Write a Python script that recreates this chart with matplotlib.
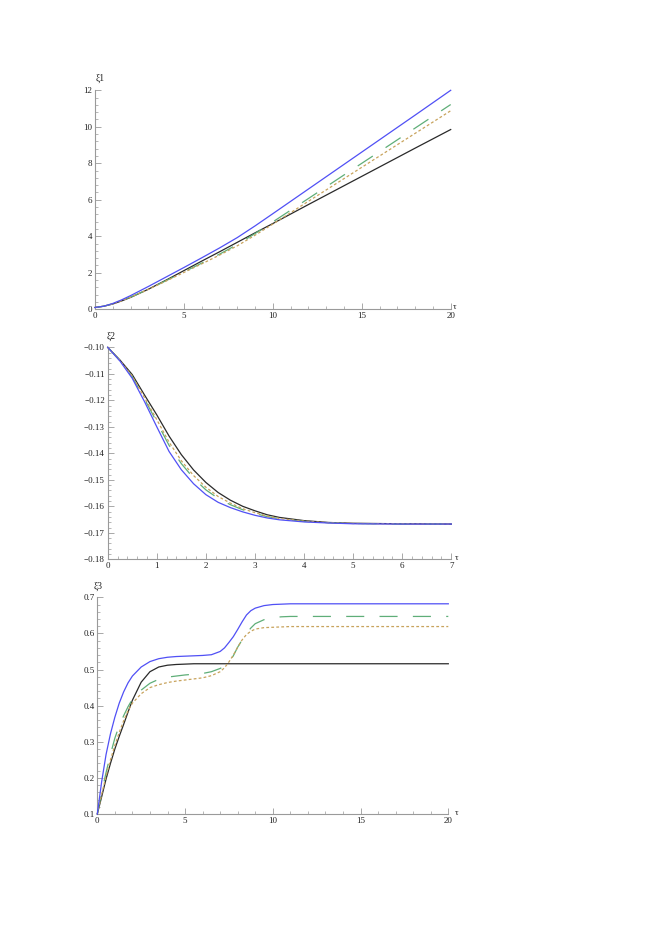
import numpy as np
import matplotlib
matplotlib.use("Agg")
import matplotlib.pyplot as plt
from matplotlib.ticker import MultipleLocator, FixedLocator, FixedFormatter

plt.rcParams['font.family'] = ['Liberation Serif', 'DejaVu Serif']
plt.rcParams['lines.scale_dashes'] = False

# ---------------- data: xi1(tau) ----------------
tau1 = [0, 0.5, 1, 1.5, 2, 3, 4, 5, 6, 7, 8, 9, 10, 12, 14, 16, 18, 20]
xi1_blue  = [0.1, 0.17, 0.32, 0.52, 0.75, 1.25, 1.77, 2.29, 2.82, 3.36, 3.93, 4.57, 5.24, 6.59, 7.94, 9.29, 10.64, 12.0]
xi1_black = [0.1, 0.17, 0.29, 0.46, 0.65, 1.10, 1.60, 2.12, 2.64, 3.15, 3.67, 4.19, 4.70, 5.74, 6.77, 7.80, 8.83, 9.85]
xi1_green = [0.1, 0.17, 0.30, 0.48, 0.67, 1.10, 1.57, 2.05, 2.53, 3.02, 3.55, 4.15, 4.79, 6.07, 7.36, 8.64, 9.93, 11.22]
xi1_orange = [0.1, 0.17, 0.30, 0.47, 0.66, 1.09, 1.55, 2.02, 2.49, 2.97, 3.48, 4.06, 4.67, 5.92, 7.16, 8.40, 9.64, 10.88]

# ---------------- data: xi2(tau) ----------------
tau2 = [0, 0.25, 0.5, 0.75, 1, 1.25, 1.5, 1.75, 2, 2.25, 2.5, 2.75, 3, 3.25, 3.5, 4, 4.5, 5, 6, 7]
xi2_blue  = [-0.1, -0.1052, -0.1117, -0.1205, -0.1300, -0.1393, -0.1462, -0.1515, -0.1556, -0.1585,
             -0.1605, -0.1621, -0.1634, -0.1644, -0.1651, -0.1659, -0.1663, -0.1666, -0.1667, -0.1667]
xi2_black = [-0.1, -0.1048, -0.1103, -0.1180, -0.1255, -0.1335, -0.1405, -0.1463, -0.1510, -0.1548,
             -0.1577, -0.1600, -0.1617, -0.1632, -0.1642, -0.1654, -0.1661, -0.1664, -0.1666, -0.1667]
xi2_green = [-0.1, -0.1050, -0.1111, -0.1195, -0.1282, -0.1370, -0.1439, -0.1494, -0.1538, -0.1570,
             -0.1594, -0.1613, -0.1627, -0.1639, -0.1647, -0.1657, -0.1662, -0.1665, -0.1667, -0.1667]
xi2_orange = [-0.1, -0.1050, -0.1109, -0.1190, -0.1273, -0.1358, -0.1428, -0.1484, -0.1528, -0.1563,
              -0.1588, -0.1609, -0.1624, -0.1637, -0.1646, -0.1656, -0.1662, -0.1665, -0.1666, -0.1667]

# ---------------- data: xi3(tau) ----------------
tau3 = [0, 0.25, 0.5, 0.75, 1, 1.25, 1.5, 1.75, 2, 2.5, 3, 3.5, 4, 4.5, 5, 5.5, 6, 6.5, 7,
        7.25, 7.5, 7.75, 8, 8.25, 8.5, 8.75, 9, 9.5, 10, 10.5, 11, 12, 15, 20]
xi3_blue  = [0.1, 0.19, 0.265, 0.322, 0.368, 0.407, 0.438, 0.463, 0.482, 0.507, 0.522, 0.530, 0.534,
             0.536, 0.537, 0.538, 0.539, 0.541, 0.550, 0.560, 0.575, 0.591, 0.611, 0.632, 0.651, 0.663,
             0.670, 0.677, 0.680, 0.681, 0.682, 0.682, 0.682, 0.682]
xi3_black = [0.1, 0.148, 0.197, 0.240, 0.280, 0.315, 0.348, 0.382, 0.415, 0.465, 0.494, 0.507, 0.512,
             0.514, 0.515, 0.516, 0.516, 0.516, 0.516, 0.516, 0.516, 0.516, 0.516, 0.516, 0.516, 0.516,
             0.516, 0.516, 0.516, 0.516, 0.516, 0.516, 0.516, 0.516]
xi3_green = [0.1, 0.16, 0.215, 0.265, 0.310, 0.345, 0.372, 0.397, 0.418, 0.443, 0.462, 0.473, 0.479,
             0.482, 0.485, 0.487, 0.489, 0.494, 0.503, 0.509, 0.520, 0.538, 0.562, 0.582, 0.600, 0.615,
             0.627, 0.638, 0.644, 0.646, 0.647, 0.647, 0.647, 0.647]
xi3_orange = [0.1, 0.155, 0.205, 0.250, 0.290, 0.326, 0.358, 0.386, 0.407, 0.433, 0.450, 0.458, 0.464,
              0.468, 0.471, 0.474, 0.477, 0.483, 0.494, 0.505, 0.521, 0.540, 0.562, 0.582, 0.597, 0.606,
              0.612, 0.616, 0.617, 0.618, 0.619, 0.619, 0.619, 0.619]

# ---------------- ticks ----------------
x1_ticks = [0, 5, 10, 15, 20]
y1_ticks = [0, 2, 4, 6, 8, 10, 12]
x2_ticks = [0, 1, 2, 3, 4, 5, 6, 7]
y2_ticks = [-0.18, -0.17, -0.16, -0.15, -0.14, -0.13, -0.12, -0.11, -0.10]
y2_labels = ['\u22120.18', '\u22120.17', '\u22120.16', '\u22120.15', '\u22120.14',
             '\u22120.13', '\u22120.12', '\u22120.11', '\u22120.10']
x3_ticks = [0, 5, 10, 15, 20]
y3_ticks = [0.1, 0.2, 0.3, 0.4, 0.5, 0.6, 0.7]
y3_labels = ['0.1', '0.2', '0.3', '0.4', '0.5', '0.6', '0.7']

W, H = 654, 934
fig = plt.figure(figsize=(W / 100, H / 100), dpi=100)

AXC = '#9a9a9a'
C_BLUE = '#5050f5'
C_BLACK = '#2a2a2a'
C_GREEN = '#5fae78'
C_ORANGE = '#c8a35c'
LW = 0.9
FS = 6.5


def box(l, r, b, t):
    return [l / W, 1 - b / H, (r - l) / W, (b - t) / H]


def style(ax, xt, yt, ylab, xminor, yminor, xlim, ylim, ylabel, ylabel_xy, tau_xy):
    ax.set_xlim(*xlim)
    ax.set_ylim(*ylim)
    for s in ['top', 'right']:
        ax.spines[s].set_visible(False)
    for s in ['left', 'bottom']:
        ax.spines[s].set_color(AXC)
        ax.spines[s].set_linewidth(0.8)
    ax.xaxis.set_major_locator(FixedLocator(xt))
    ax.xaxis.set_major_formatter(FixedFormatter([str(v) for v in xt]))
    ax.yaxis.set_major_locator(FixedLocator(yt))
    ax.yaxis.set_major_formatter(FixedFormatter(ylab))
    ax.xaxis.set_minor_locator(MultipleLocator(xminor))
    ax.yaxis.set_minor_locator(MultipleLocator(yminor))
    ax.tick_params(which='major', direction='in', length=4, width=0.6, color=AXC,
                   labelsize=FS, labelcolor='#222222', pad=2)
    ax.tick_params(which='minor', direction='in', length=2, width=0.5, color=AXC)
    ax.patch.set_alpha(0)
    fig.text(ylabel_xy[0] / W, 1 - ylabel_xy[1] / H, ylabel, fontsize=FS + 0.5,
             ha='center', va='center', color='#222222')
    fig.text(tau_xy[0] / W, 1 - tau_xy[1] / H, '\u03c4', fontsize=FS,
             ha='center', va='center', color='#222222')


def curves(ax, t, b, k, g, o):
    ax.plot(t, b, color=C_BLUE, lw=LW, zorder=4, clip_on=False)
    ax.plot(t, k, color=C_BLACK, lw=LW, zorder=3, clip_on=False)
    ax.plot(t, g, color=C_GREEN, lw=LW, dashes=(13, 11), zorder=3, clip_on=False)
    ax.plot(t, o, color=C_ORANGE, lw=LW, dashes=(2, 1.6), zorder=3, clip_on=False)


ax1 = fig.add_axes(box(95, 450.7, 309.3, 90.3))
curves(ax1, tau1, xi1_blue, xi1_black, xi1_green, xi1_orange)
style(ax1, x1_ticks, y1_ticks, [str(v) for v in y1_ticks], 1, 0.4, (0, 20), (0, 12),
      '\u03be1', (100, 78), (455, 307))

ax2 = fig.add_axes(box(107.7, 451.3, 559.3, 347.3))
curves(ax2, tau2, xi2_blue, xi2_black, xi2_green, xi2_orange)
style(ax2, x2_ticks, y2_ticks, y2_labels, 0.2, 0.002, (0, 7), (-0.18, -0.10),
      '\u03be2', (111, 336), (457, 558))

ax3 = fig.add_axes(box(97.3, 448.3, 814, 597.3))
curves(ax3, tau3, xi3_blue, xi3_black, xi3_green, xi3_orange)
style(ax3, x3_ticks, y3_ticks, y3_labels, 1, 0.02, (0, 20), (0.1, 0.7),
      '\u03be3', (98, 586), (457, 813))

fig.savefig('out.png', dpi=100)
